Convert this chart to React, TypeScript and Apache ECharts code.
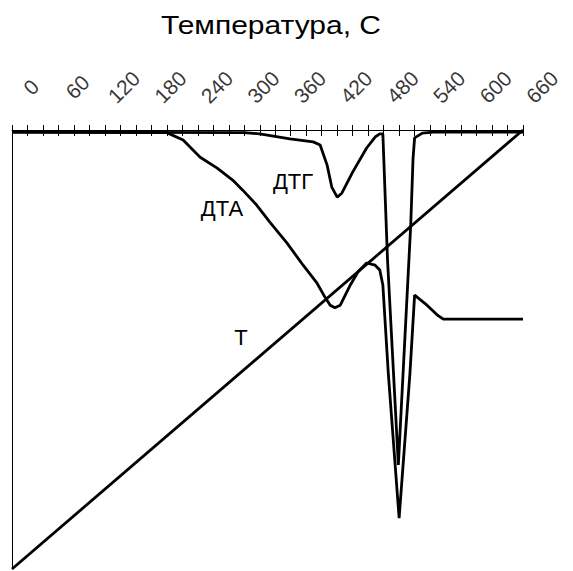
import React, { useEffect, useRef } from "react";
import * as echarts from "echarts";

// Temperature axis: ticks every 20, labels every 60
const tempMin = 0;
const tempMax = 660;
const tickStep = 20;
const tickLabels = [0, 60, 120, 180, 240, 300, 360, 420, 480, 540, 600, 660];

// DTA curve: [temperature, signal]
const dtaData: [number, number][] = [
  [0, -0.5], [200, -0.6], [221, -2.3], [243, -6.2], [265, -8.7], [285, -11.4],
  [298, -13.7], [316, -17.1], [333, -21.0], [355, -25.7], [376, -30.8],
  [394, -34.9], [404, -38.0], [411, -39.9], [417, -40.5], [424, -39.9],
  [437, -35.3], [447, -32.3], [458, -30.3], [469, -30.8], [475, -31.9],
  [479, -35.3], [486, -55.4], [500, -88.4], [514, -55.4], [520, -37.6],
  [536, -39.9], [549, -42.1], [557, -43.1], [660, -43.1],
];

// DTG curve: [temperature, signal]
const dtgData: [number, number][] = [
  [0, -0.5], [300, -0.6], [320, -0.9], [359, -2.0], [389, -2.7], [398, -3.4],
  [407, -8.0], [413, -13.0], [420, -15.3], [426, -14.4], [440, -9.6],
  [458, -4.1], [469, -1.6], [475, -0.9], [479, -0.9], [485, -29.5],
  [499, -76.3], [515, -21.6], [518, -6.4], [520, -1.8], [530, -0.7],
  [544, -0.5], [660, -0.5],
];

// Temperature line T
const tData: [number, number][] = [
  [0, -100],
  [660, 0],
];

const titleText = "Температура, С";
const labelDTG = "ДТГ";
const labelDTA = "ДТА";
const labelT = "Т";

const FONT = "Liberation Sans";

export default function App() {
  const ref = useRef<HTMLDivElement>(null);
  useEffect(() => {
    if (!ref.current) return;
    const chart = echarts.init(ref.current, undefined, { renderer: "svg" });
    const lineStyle = { color: "#000", width: 2.8 };
    chart.setOption({
      animation: false,
      backgroundColor: "#fff",
      grid: { left: 12, right: 50, top: 130, bottom: 2, containLabel: false },
      xAxis: [
        {
          type: "value",
          position: "top",
          min: tempMin,
          max: tempMax,
          interval: tickStep,
          axisLine: { show: true, lineStyle: { color: "#000", width: 1 } },
          axisTick: { show: true, length: 5, lineStyle: { color: "#000", width: 1 } },
          splitLine: { show: false },
          axisLabel: { show: false },
        },
        {
          type: "value",
          position: "top",
          min: tempMin,
          max: tempMax,
          interval: tickStep,
          axisLine: { show: false },
          axisTick: { show: true, inside: true, length: 6, lineStyle: { color: "#000", width: 1 } },
          splitLine: { show: false },
          axisLabel: { show: false },
        },
      ],
      yAxis: {
        type: "value",
        min: -100,
        max: 0,
        axisLine: { show: true, lineStyle: { color: "#000", width: 1 } },
        axisTick: { show: false },
        axisLabel: { show: false },
        splitLine: { show: false },
      },
      series: [
        { type: "line", data: tData, symbol: "none", lineStyle, xAxisIndex: 0 },
        { type: "line", data: dtaData, symbol: "none", lineStyle, xAxisIndex: 0 },
        { type: "line", data: dtgData, symbol: "none", lineStyle, xAxisIndex: 0 },
        {
          type: "scatter",
          xAxisIndex: 0,
          data: tickLabels.map((v) => [v, 0]),
          symbolSize: 0,
          silent: true,
          clip: false,
          label: {
            show: true,
            position: [19, -43],
            rotate: 45,
            align: "center",
            verticalAlign: "middle",
            fontSize: 21,
            fontFamily: FONT,
            color: "#000",
            formatter: (p: any) => String(p.value[0]),
          },
        },
      ],
      graphic: [
        {
          type: "text",
          x: 271,
          y: 25,
          scaleX: 1.2,
          style: { text: titleText, font: `25px ${FONT}`, fill: "#000", align: "center", verticalAlign: "middle" },
        },
        {
          type: "text",
          x: 293,
          y: 181,
          style: { text: labelDTG, font: `22px ${FONT}`, fill: "#000", align: "center", verticalAlign: "middle" },
        },
        {
          type: "text",
          x: 222,
          y: 208,
          style: { text: labelDTA, font: `22px ${FONT}`, fill: "#000", align: "center", verticalAlign: "middle" },
        },
        {
          type: "text",
          x: 241,
          y: 337,
          style: { text: labelT, font: `22px ${FONT}`, fill: "#000", align: "center", verticalAlign: "middle" },
        },
      ],
    });
    return () => chart.dispose();
  }, []);
  return (
    <div
      ref={ref}
      style={{ position: "absolute", left: 0, top: 0, width: 573, height: 571 }}
    />
  );
}
